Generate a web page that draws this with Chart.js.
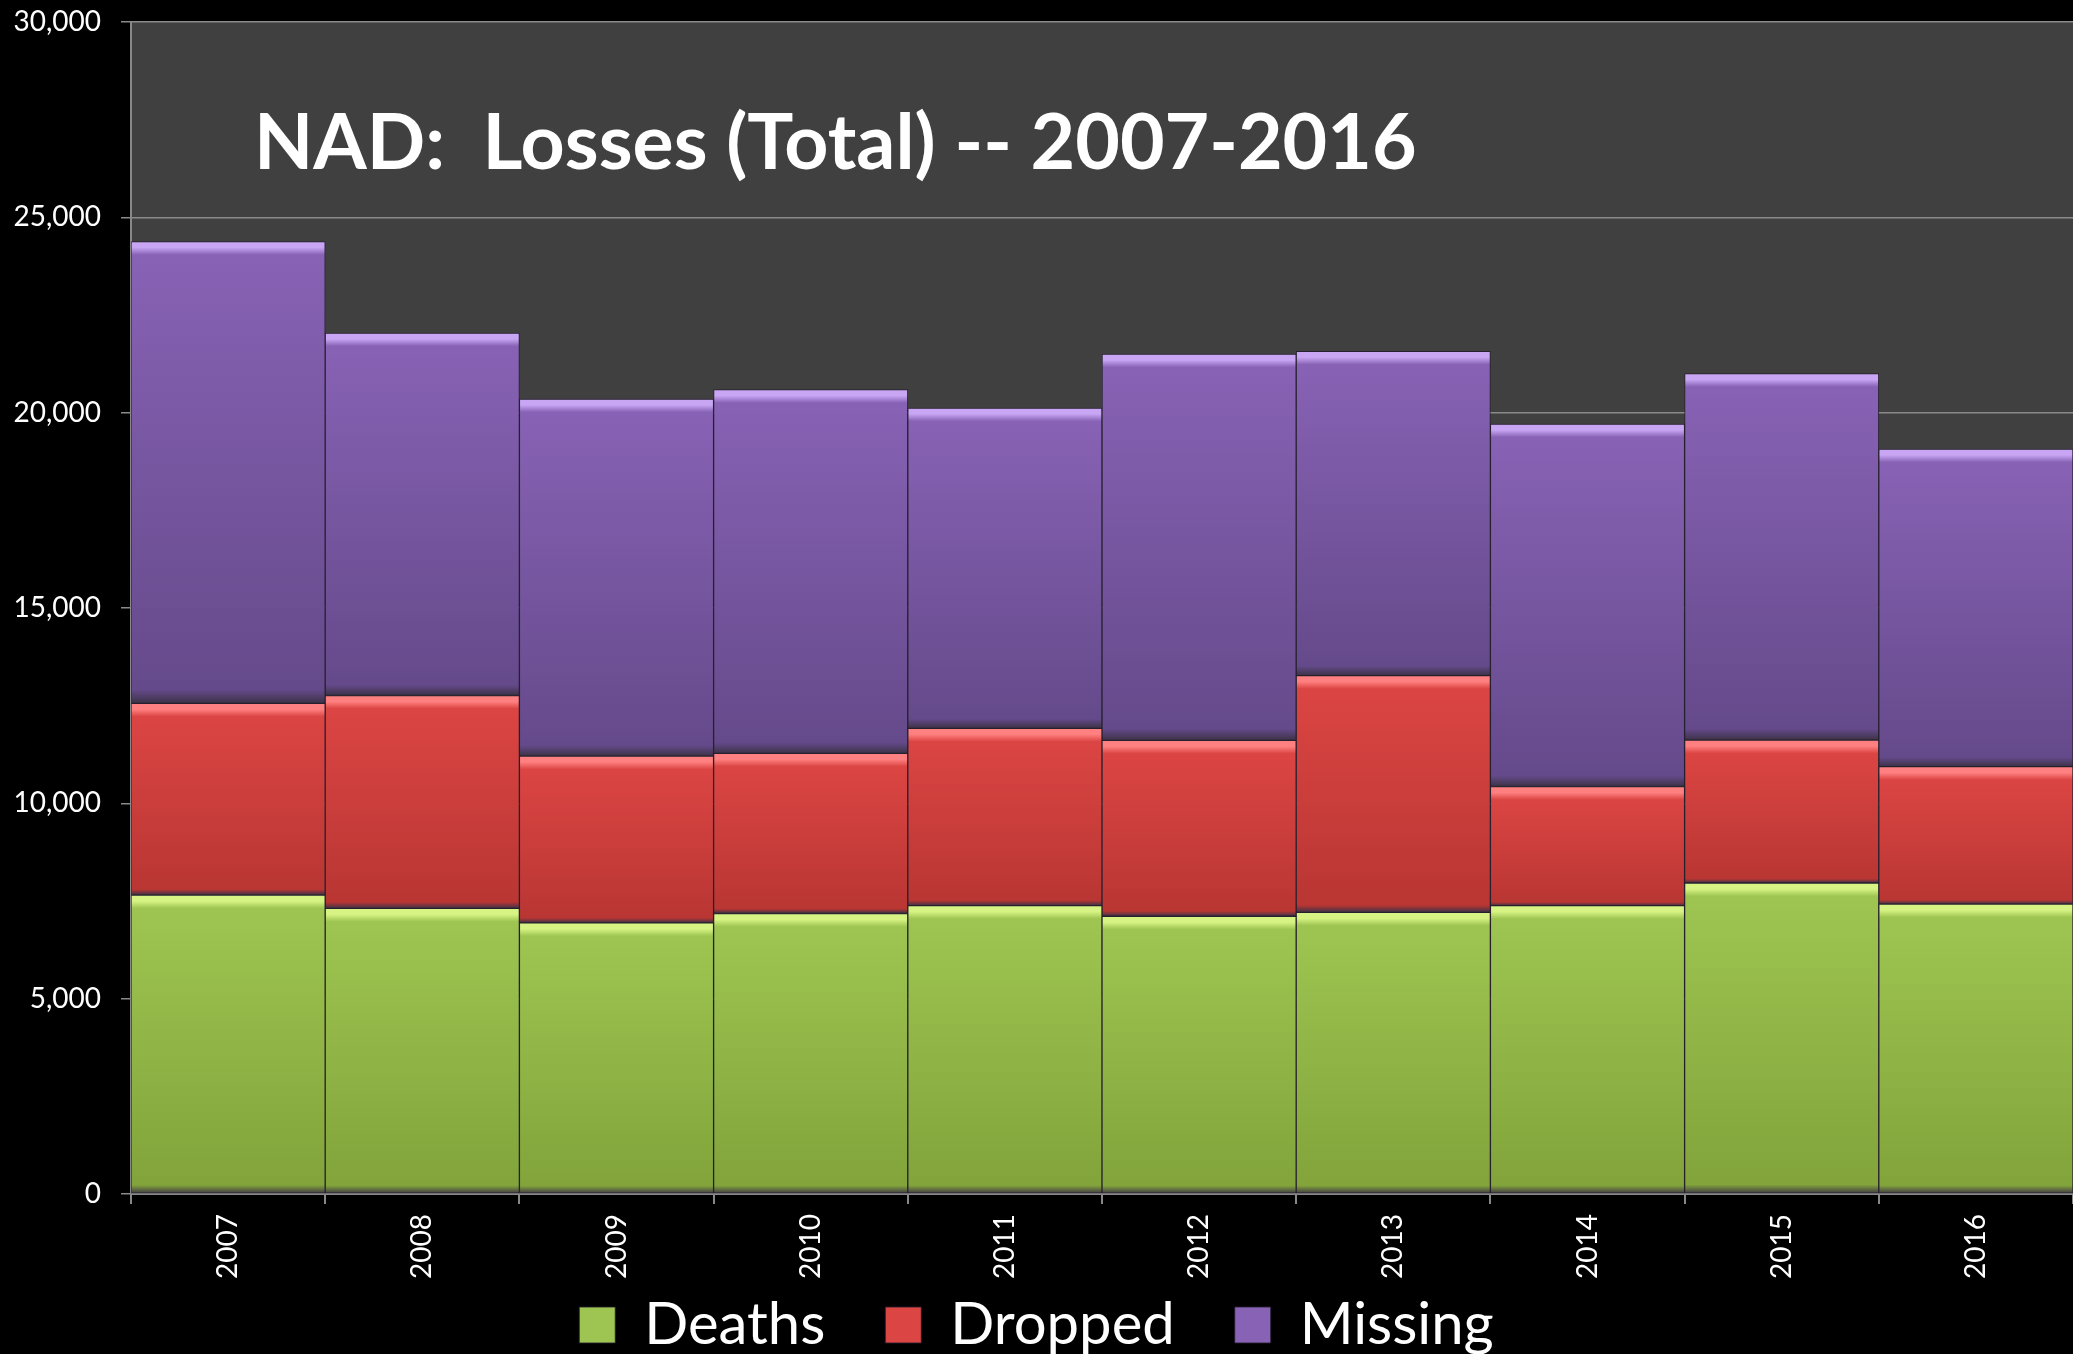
<!DOCTYPE html>
<html lang="en">
<head>
  <meta charset="UTF-8">
  <title>NAD: Losses (Total) -- 2007-2016</title>
  <script src="https://cdn.jsdelivr.net/npm/chart.js"></script>
  <style>
    html, body { margin: 0; padding: 0; background: #000; }
  </style>
</head>
<body>
  <canvas id="lossChart" width="2073" height="1354"></canvas>

  <script>
    // dados
    const anos = ['2007', '2008', '2009', '2010', '2011', '2012', '2013', '2014', '2015', '2016'];
    const deaths  = [7650, 7310, 6940, 7180, 7380, 7110, 7210, 7380, 7960, 7420];
    const dropped = [4910, 5450, 4270, 4100, 4540, 4500, 6060, 3050, 3660, 3520];
    const missing = [11820, 9280, 9140, 9310, 8200, 9890, 8300, 9280, 9380, 8130];
    const yMax = 30000;
    const yStep = 5000;
    const titulo = 'NAD:  Losses (Total) -- 2007-2016';

    // cores: brilho do topo, corpo, base
    const verde  = ['#d6f383', '#9ec551', '#82a43b'];
    const vermelho = ['#ff8080', '#db4543', '#b93633'];
    const roxo   = ['#c8a6f4', '#8862b5', '#654a8b'];

    // gradiente vertical por barra, com faixa clara no topo
    function gradiente(stops) {
      return function (ctx) {
        const chart = ctx.chart;
        const y = chart.scales.y;
        if (ctx.type !== 'data' || !y || !chart.chartArea) return stops[1];
        let base = 0;
        for (let i = 0; i < ctx.datasetIndex; i++) {
          base += chart.data.datasets[i].data[ctx.dataIndex];
        }
        const valor = chart.data.datasets[ctx.datasetIndex].data[ctx.dataIndex];
        const topo = y.getPixelForValue(base + valor);
        const fundo = y.getPixelForValue(base);
        const h = Math.max(fundo - topo, 1);
        const g = chart.ctx.createLinearGradient(0, topo, 0, fundo);
        const faixa = Math.min(6 / h, 0.2);
        g.addColorStop(0, stops[0]);
        g.addColorStop(faixa, stops[0]);
        g.addColorStop(Math.min(faixa * 2.2, 0.35), stops[1]);
        g.addColorStop(0.97, stops[2]);
        g.addColorStop(1, 'rgba(60,50,70,1)');
        return g;
      };
    }

    const fundoPlugin = {
      id: 'fundo',
      beforeDraw(chart) {
        const { ctx, chartArea } = chart;
        ctx.save();
        ctx.fillStyle = '#000';
        ctx.fillRect(0, 0, chart.width, chart.height);
        ctx.fillStyle = '#404040';
        ctx.fillRect(chartArea.left, chartArea.top, chartArea.right - chartArea.left, chartArea.bottom - chartArea.top);
        ctx.restore();
      }
    };

    const tituloPlugin = {
      id: 'tituloInterno',
      afterDraw(chart) {
        const { ctx, chartArea } = chart;
        ctx.save();
        ctx.fillStyle = '#fff';
        ctx.font = 'bold 77px Lato';
        ctx.textBaseline = 'alphabetic';
        ctx.textAlign = 'left';
        ctx.fillText(titulo, chartArea.left + 123, chartArea.top + 147);
        ctx.restore();
      }
    };

    const ctx = document.getElementById('lossChart').getContext('2d');
    new Chart(ctx, {
      type: 'bar',
      data: {
        labels: anos,
        datasets: [
          { label: 'Deaths', data: deaths, backgroundColor: gradiente(verde), legendColor: verde[1] },
          { label: 'Dropped', data: dropped, backgroundColor: gradiente(vermelho), legendColor: vermelho[1] },
          { label: 'Missing', data: missing, backgroundColor: gradiente(roxo), legendColor: roxo[1] }
        ]
      },
      options: {
        responsive: false,
        animation: false,
        events: [],
        layout: { padding: { top: 22, right: 0, left: 0, bottom: -10 } },
        datasets: {
          bar: {
            barPercentage: 1,
            categoryPercentage: 1,
            borderWidth: 1,
            borderColor: 'rgba(35,28,45,0.85)',
            borderSkipped: false
          }
        },
        plugins: {
          title: { display: false },
          tooltip: { enabled: false },
          legend: {
            position: 'bottom',
            labels: {
              color: '#fff',
              font: { family: 'Lato', size: 58 },
              boxWidth: 36,
              boxHeight: 36,
              padding: 60,
              generateLabels(chart) {
                return chart.data.datasets.map((ds, i) => ({
                  text: ds.label,
                  fillStyle: ds.legendColor,
                  strokeStyle: 'rgba(35,28,45,0.85)',
                  lineWidth: 1,
                  fontColor: '#fff',
                  datasetIndex: i
                }));
              }
            }
          }
        },
        scales: {
          x: {
            stacked: true,
            grid: { offset: true, drawOnChartArea: false, color: '#888', tickLength: 10, lineWidth: 2 },
            border: { color: '#888', width: 2 },
            ticks: {
              color: '#fff',
              font: { family: 'Lato', size: 28 },
              minRotation: 90,
              maxRotation: 90,
              padding: 10
            },
            afterFit(scale) {
              scale.height = 42;
              // rotulos descem sobre a area da legenda, nao cortar
              scale._computeLabelArea = () => undefined;
            }
          },
          y: {
            stacked: true,
            min: 0,
            max: yMax,
            grid: { color: '#8a8a8a', lineWidth: 1.5, tickLength: 10 },
            border: { color: '#888', width: 2 },
            ticks: {
              stepSize: yStep,
              color: '#fff',
              font: { family: 'Lato', size: 28 },
              padding: 20,
              callback: v => v.toLocaleString('en-US')
            },
            afterFit(scale) {
              scale.width = 131;
              scale.paddingTop = 16;
              scale.paddingBottom = 16;
            }
          }
        }
      },
      plugins: [fundoPlugin, tituloPlugin]
    });
  </script>
</body>
</html>
